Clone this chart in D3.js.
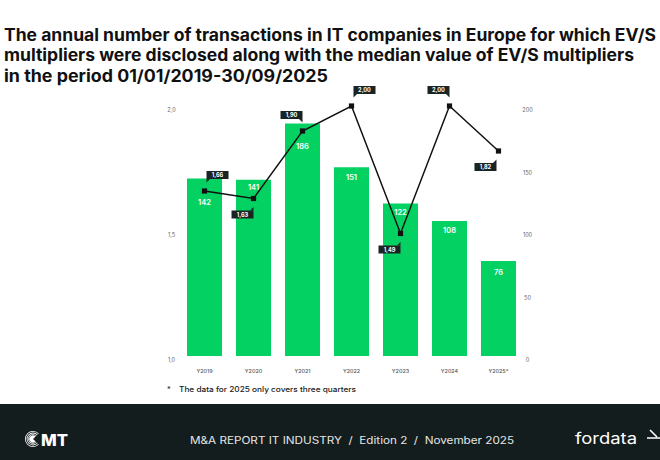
<!DOCTYPE html>
<html>
<head>
<meta charset="utf-8">
<script src="https://cdn.jsdelivr.net/npm/d3@7"></script>
<style>
  html, body { margin: 0; padding: 0; background: #fff; }
  svg { display: block; }
  text { font-family: Inter, "Noto Sans", sans-serif; }
</style>
</head>
<body>
<svg id="chart" width="660" height="460"></svg>
<script>
// ---- data ----
const categories = ["Y2019", "Y2020", "Y2021", "Y2022", "Y2023", "Y2024", "Y2025*"];
const transactions = [142, 141, 186, 151, 122, 108, 76];
const evsMedian = [1.66, 1.63, 1.90, 2.00, 1.49, 2.00, 1.82];
const leftTicks = [1.0, 1.5, 2.0];
const rightTicks = [0, 50, 100, 150, 200];
const titleLines = [
  "The annual number of transactions in IT companies in Europe for which EV/S",
  "multipliers were disclosed along with the median value of EV/S multipliers",
  "in the period 01/01/2019-30/09/2025"
];
const footnote = "The data for 2025 only covers three quarters";
const footerText = "M&A REPORT IT INDUSTRY  /  Edition 2  /  November 2025";

// ---- layout / style config ----
const barLabelOffset = [24, 8, 23, 10, 9, 9, 11];      // px below bar top (label centre)
const calloutPlace = ["ur", "dl", "ul", "ur", "dl", "ul", "dl"];
const GREEN = "#03d263";
const DARK = "#141d1d";

const svg = d3.select("#chart");
const fmt = v => d3.format(".2f")(v).replace(".", ",");
const fmtTick = v => d3.format(".1f")(v).replace(".", ",");

// title
const tw = [652, 630, 324];
const tb = [40.5, 61, 81.7];
titleLines.forEach((t, i) => {
  svg.append("text")
    .attr("x", 4).attr("y", tb[i])
    .attr("font-size", 16.8).attr("font-weight", 700)
    .attr("fill", "#111")
    .attr("textLength", tw[i]).attr("lengthAdjust", "spacingAndGlyphs")
    .text(t);
});

// scales
const x = d3.scaleBand().domain(categories).range([187, 516]).paddingInner(0.285).paddingOuter(0);
const yL = d3.scaleLinear().domain([1, 2]).range([356, 106]);
const yR = d3.scaleLinear().domain([0, 200]).range([356, 106]);

// left axis
const axL = d3.axisLeft(yL).tickValues(leftTicks).tickSize(0).tickFormat(fmtTick);
const gL = svg.append("g").attr("transform", "translate(174,4)").call(axL);
gL.select(".domain").remove();
gL.selectAll("text").attr("font-size", 5.5).attr("fill", "#666").attr("font-family", "Inter").attr("x", 0).attr("text-anchor", "middle").attr("dx", -2.5);

// right axis
const axR = d3.axisRight(yR).tickValues(rightTicks).tickSize(0);
const gR = svg.append("g").attr("transform", "translate(527.5,4)").call(axR);
gR.select(".domain").remove();
gR.selectAll("text").attr("font-size", 5.5).attr("fill", "#666").attr("font-family", "Inter").attr("x", 0).attr("text-anchor", "middle");

// bars
svg.append("g").selectAll("rect").data(categories).join("rect")
  .attr("x", d => x(d))
  .attr("y", (d, i) => yR(transactions[i]))
  .attr("width", x.bandwidth())
  .attr("height", (d, i) => yR(0) - yR(transactions[i]))
  .attr("fill", GREEN);

// x labels
svg.append("g").selectAll("text").data(categories).join("text")
  .attr("x", d => x(d) + x.bandwidth() / 2)
  .attr("y", 372.5)
  .attr("text-anchor", "middle")
  .attr("font-size", 5.4).attr("fill", "#555").attr("font-weight", 500)
  .text(d => d);

// line
const px = i => x(categories[i]) + x.bandwidth() / 2;
const line = d3.line().x((d, i) => px(i)).y(d => yL(d));
svg.append("path").datum(evsMedian)
  .attr("d", line).attr("fill", "none")
  .attr("stroke", "#111").attr("stroke-width", 1.5);

// bar labels
svg.append("g").selectAll("text").data(transactions).join("text")
  .attr("x", (d, i) => px(i))
  .attr("y", (d, i) => yR(d) + barLabelOffset[i] + 2.7)
  .attr("text-anchor", "middle")
  .attr("font-size", 7.5).attr("font-weight", 600).attr("fill", "#fff")
  .text(d => d);

// markers
svg.append("g").selectAll("rect").data(evsMedian).join("rect")
  .attr("x", (d, i) => px(i) - 2.6)
  .attr("y", d => yL(d) - 2.6)
  .attr("width", 5.2).attr("height", 5.2)
  .attr("fill", "#111");

// callouts
const BW = 22, BH = 8, GAP = 12, T = 3.5;
evsMedian.forEach((v, i) => {
  const cx = px(i), cy = yL(v), p = calloutPlace[i];
  let bx, by, tri;
  if (p === "ur") {
    bx = cx + 2; by = cy - GAP - BH;
    tri = [[bx, by + BH], [bx + T, by + BH], [bx, by + BH + T]];
  } else if (p === "ul") {
    bx = cx - BW; by = cy - GAP - BH;
    tri = [[bx + BW, by + BH], [bx + BW - T, by + BH], [bx + BW, by + BH + T]];
  } else {
    bx = cx - BW - (i === 6 ? 2 : 0); by = cy + GAP;
    tri = [[bx + BW, by], [bx + BW - T, by], [bx + BW, by - T]];
  }
  const g = svg.append("g");
  g.append("rect").attr("x", bx).attr("y", by).attr("width", BW).attr("height", BH).attr("fill", "#1b2424");
  g.append("path").attr("d", "M" + tri.map(t => t.join(",")).join("L") + "Z").attr("fill", "#1b2424");
  g.append("text").attr("x", bx + BW / 2).attr("y", by + BH / 2 + 2)
    .attr("text-anchor", "middle").attr("font-size", 5.6).attr("font-weight", 700)
    .attr("fill", "#fff").text(fmt(v));
});

// footnote
svg.append("text").attr("x", 167).attr("y", 392).attr("font-size", 7.5).attr("fill", "#222").text("*");
svg.append("text").attr("x", 179).attr("y", 392).attr("font-size", 7.3).attr("font-weight", 500)
  .attr("fill", "#1a1a1a").attr("textLength", 177).attr("lengthAdjust", "spacingAndGlyphs").text(footnote);

// footer band
svg.append("rect").attr("x", 0).attr("y", 404).attr("width", 660).attr("height", 56).attr("fill", DARK);
svg.append("text").attr("x", 190).attr("y", 444).attr("font-size", 10.3).attr("fill", "#e6e6e6")
  .attr("textLength", 324).attr("lengthAdjust", "spacingAndGlyphs")
  .style("white-space", "pre").attr("xml:space", "preserve").text(footerText);

// CMT logo
const logo = svg.append("g").attr("transform", "translate(33,439)");
const gapA = 0.75;
[8, 6.4, 4.8].forEach(r => {
  logo.append("path")
    .attr("d", d3.arc()({ innerRadius: r - 0.8, outerRadius: r, startAngle: Math.PI / 2 + gapA, endAngle: Math.PI * 2.5 - gapA }))
    .attr("fill", "#fff");
});
logo.append("path")
  .attr("d", d3.arc()({ innerRadius: 0, outerRadius: 3.6, startAngle: Math.PI / 2 + gapA, endAngle: Math.PI * 2.5 - gapA }))
  .attr("fill", "#fff");
svg.append("text").attr("x", 41).attr("y", 445.5).attr("font-size", 15.5).attr("font-weight", 800)
  .attr("fill", "#fff").attr("textLength", 27).attr("lengthAdjust", "spacingAndGlyphs").text("MT");

// fordata logo
svg.append("text").attr("x", 575).attr("y", 444).attr("font-size", 16).attr("font-weight", 400)
  .attr("font-family", "'Open Sans', sans-serif")
  .attr("fill", "#fff").attr("textLength", 62).attr("lengthAdjust", "spacingAndGlyphs").text("fordata");
svg.append("path").attr("d", "M647,438 L660,438 M650,430 L657,437")
  .attr("stroke", "#fff").attr("stroke-width", 1.6).attr("fill", "none");
</script>
</body>
</html>
